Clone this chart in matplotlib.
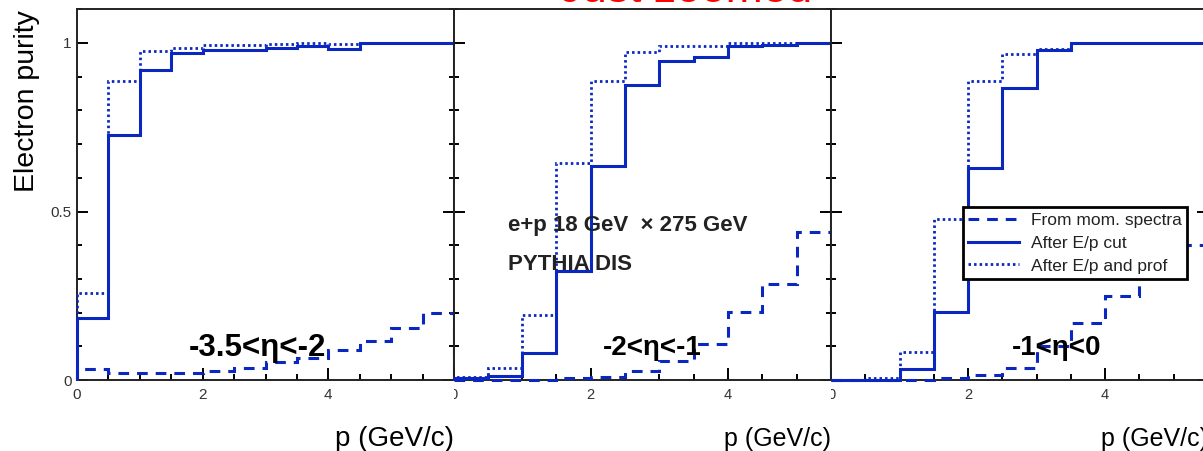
import numpy as np
import matplotlib
matplotlib.use("Agg")
import matplotlib.pyplot as plt
from matplotlib.ticker import MultipleLocator, FixedLocator
from matplotlib.transforms import Bbox, TransformedBbox

plt.rcParams['font.family'] = ['Liberation Sans', 'DejaVu Sans']

# electron purity per 0.5 GeV/c momentum bin
bin_width = 0.5
p_max = [6.0, 5.5, 5.5]
eta_labels = ['-3.5<η<-2', '-2<η<-1', '-1<η<0']

spectra = [
    [0.032, 0.020, 0.020, 0.022, 0.028, 0.035, 0.054, 0.064, 0.089, 0.117, 0.153, 0.198],
    [0.0, 0.0, 0.0, 0.005, 0.010, 0.028, 0.057, 0.107, 0.203, 0.285, 0.44],
    [0.0, 0.0, 0.0, 0.005, 0.015, 0.037, 0.10, 0.168, 0.248, 0.32, 0.40],
]
ep_cut = [
    [0.183, 0.728, 0.921, 0.970, 0.980, 0.980, 0.985, 0.990, 0.983, 1.0, 1.0, 1.0],
    [0.005, 0.012, 0.079, 0.322, 0.634, 0.876, 0.946, 0.958, 0.992, 0.995, 1.0],
    [0.0, 0.0, 0.032, 0.203, 0.629, 0.866, 0.980, 1.0, 1.0, 1.0, 1.0],
]
ep_prof = [
    [0.257, 0.886, 0.975, 0.985, 0.995, 0.995, 0.997, 1.0, 0.997, 1.0, 1.0, 1.0],
    [0.010, 0.035, 0.193, 0.644, 0.888, 0.972, 0.990, 0.990, 1.0, 1.0, 1.0],
    [0.0, 0.005, 0.084, 0.477, 0.888, 0.968, 0.982, 1.0, 1.0, 1.0, 1.0],
]

W, H = 1203, 451
blue = '#0a28c0'

fig = plt.figure(figsize=(W / 100, H / 100), dpi=100)


def rect(l, r, b=380, t=9.3):
    return [l / W, (H - b) / H, (r - l) / W, (b - t) / H]


axes = [fig.add_axes(rect(77, 454)),
        fig.add_axes(rect(453.5, 831)),
        fig.add_axes(rect(831, 1208))]

eta_pos = [(257, 348), (652, 348), (1057, 348)]

for i, ax in enumerate(axes):
    edges = np.arange(len(ep_cut[i]) + 1) * bin_width
    kw = dict(color=blue, baseline=0, zorder=3, clip_on=False)
    h1 = ax.stairs(spectra[i], edges, lw=2.2, linestyle=(0, (3.5, 2.6)), **kw)
    h2 = ax.stairs(ep_cut[i], edges, lw=2.2, **kw)
    h3 = ax.stairs(ep_prof[i], edges, lw=2.0, linestyle=(0, (0.9, 1.1)), **kw)

    ax.set_xlim(0, p_max[i])
    ax.set_ylim(0, 1.1)
    for s in ax.spines.values():
        s.set_linewidth(1.4)
        s.set_color('#222222')
    ax.spines['right'].set_zorder(3.5)
    ax.spines['top'].set_zorder(3.5)

    ax.xaxis.set_major_locator(FixedLocator([0, 2, 4]))
    ax.xaxis.set_minor_locator(MultipleLocator(0.5))
    ax.yaxis.set_major_locator(FixedLocator([0, 0.5, 1]))
    ax.yaxis.set_minor_locator(MultipleLocator(0.1))
    ax.tick_params(which='both', direction='in', right=True, top=False,
                   width=1.4, color='black', labelsize=11 if i == 0 else 10.5,
                   labelcolor='#333333')
    ax.tick_params(axis='x', which='major', length=9, pad=6)
    ax.tick_params(axis='x', which='minor', length=4)
    ax.tick_params(axis='y', which='major', length=8, pad=4)
    ax.tick_params(axis='y', which='minor', length=3.5)

    if i == 0:
        ax.set_yticklabels(['0', '0.5', '1'])
        ax.set_xticklabels(['0', '2', '4'])
    else:
        ax.set_yticklabels([])
        ax.set_xticklabels(['', '2', '4'])
        # the "0" label is cut by the neighbouring pad
        t = ax.annotate('0', xy=(0, 0), xycoords=('data', 'axes fraction'),
                        xytext=(0, -6), textcoords='offset points',
                        ha='center', va='top', fontsize=10.5, color='#333333',
                        annotation_clip=False)
        t.set_clip_on(True)
        t.set_clip_box(TransformedBbox(Bbox([[0, -1], [2, 1]]), ax.transAxes))

    ax.set_xlabel('p (GeV/c)', fontsize=20 if i == 0 else 18, ha='right',
                  x=1.0, labelpad=17 if i == 0 else 18)

    ex, ey = eta_pos[i]
    fig.text(ex / W, (H - ey) / H, eta_labels[i], fontsize=22.5 if i == 0 else 20,
             fontweight='bold', ha='center', va='center', zorder=6)

    if i == 2:
        ax.legend([h1, h2, h3], ['From mom. spectra', 'After E/p cut', 'After E/p and prof'],
                  loc='upper left', bbox_to_anchor=(0.350, 0.466), fontsize=12.5,
                  frameon=True, fancybox=False, edgecolor='black', framealpha=1,
                  handlelength=2.9, handletextpad=0.7, borderpad=0.3,
                  labelspacing=0.45, borderaxespad=0)
        leg = ax.get_legend()
        leg.get_frame().set_linewidth(2)
        for txt in leg.get_texts():
            txt.set_color('#222222')

fig.text(27.5 / W, (H - 10) / H, 'Electron purity', fontsize=20.5, rotation=90,
         ha='center', va='top')

fig.text(508 / W, (H - 225) / H, 'e+p 18 GeV  × 275 GeV', fontsize=16,
         fontweight='bold', ha='left', va='center', color='#222222')
fig.text(508 / W, (H - 264) / H, 'PYTHIA DIS', fontsize=16,
         fontweight='bold', ha='left', va='center', color='#222222')

fig.text(686 / W, 1 - 1.5 / H, 'Just zoomed', color='red', fontsize=32,
         ha='center', va='baseline')

fig.savefig('out.png', dpi=100)
